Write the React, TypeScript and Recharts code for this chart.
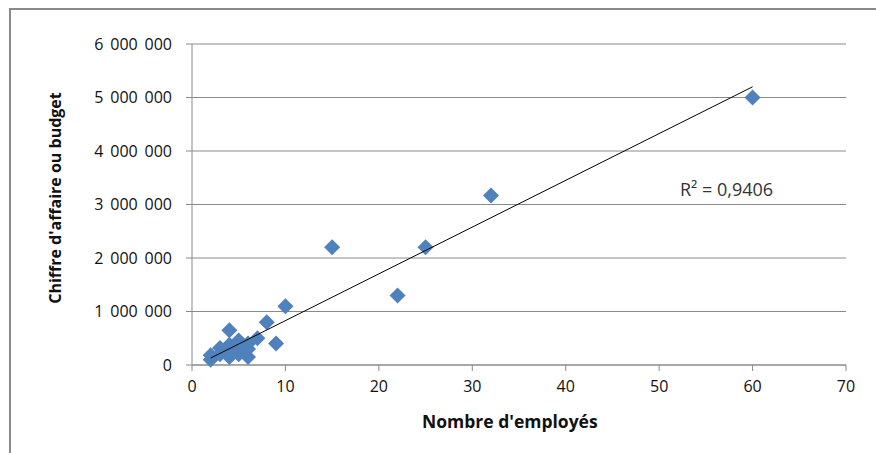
import { ScatterChart, Scatter, XAxis, YAxis, CartesianGrid } from "recharts";

// Nombre d'employés vs chiffre d'affaire
const employees = [2, 2, 3, 3, 4, 4, 4, 4, 5, 5, 5, 6, 6, 6, 7, 8, 9, 10, 15, 22, 25, 32, 60];
const revenue = [
  100000, 180000, 200000, 320000, 150000, 250000, 380000, 650000, 200000, 300000, 460000,
  150000, 300000, 400000, 500000, 800000, 400000, 1100000, 2200000, 1300000, 2200000,
  3170000, 5000000,
];

// trend line ends
const trendX = [2, 60];
const trendY = [130000, 5200000];

const xTicks = [0, 10, 20, 30, 40, 50, 60, 70];
const yTicks = [0, 1000000, 2000000, 3000000, 4000000, 5000000, 6000000];

const points = employees.map((x, i) => ({ x, y: revenue[i] }));
const trend = trendX.map((x, i) => ({ x, y: trendY[i] }));

const fmt = (v: number) => String(v).replace(/\B(?=(\d{3})+(?!\d))/g, "\u2009\u00a0");

const Diamond = (props: any) => {
  const { cx, cy } = props;
  const r = 8;
  return (
    <polygon
      points={`${cx},${cy - r} ${cx + r},${cy} ${cx},${cy + r} ${cx - r},${cy}`}
      fill="#4F81BD"
    />
  );
};

const font = "'Open Sans', sans-serif";

export default function App() {
  return (
    <div style={{ position: "absolute", left: 0, top: 0, width: 876, height: 453, background: "#fff", fontFamily: font }}>
      <div
        style={{
          position: "absolute",
          left: 9,
          top: 8,
          width: 880,
          height: 460,
          borderLeft: "2px solid #8a8a8a",
          borderTop: "2px solid #8a8a8a",
        }}
      />
      <div style={{ position: "absolute", left: 0, top: 0 }}>
        <ScatterChart width={876} height={453} margin={{ top: 44, right: 30, bottom: 0, left: 42 }}>
          <CartesianGrid horizontal vertical={false} stroke="#8a8a8a" strokeDasharray="" />
          <XAxis
            type="number"
            dataKey="x"
            domain={[0, 70]}
            ticks={xTicks}
            height={88}
            tickSize={6}
            tickMargin={10}
            stroke="#8a8a8a"
            tick={{ fill: "#111", fontSize: 16, fontFamily: font }}
          />
          <YAxis
            type="number"
            dataKey="y"
            domain={[0, 6000000]}
            ticks={yTicks}
            width={150}
            tickSize={6}
            tickMargin={14}
            stroke="#8a8a8a"
            tickFormatter={fmt}
            tick={{ fill: "#111", fontSize: 16, fontFamily: font }}
          />
          <Scatter data={points} shape={Diamond} isAnimationActive={false} />
          <Scatter
            data={trend}
            line={{ stroke: "#000", strokeWidth: 1 }}
            shape={() => <g />}
            isAnimationActive={false}
          />
        </ScatterChart>
      </div>
      <div
        style={{
          position: "absolute",
          left: 680,
          top: 177,
          fontSize: 18,
          color: "#333",
          whiteSpace: "nowrap",
        }}
      >
        R² = 0,9406
      </div>
      <div
        style={{
          position: "absolute",
          left: 422,
          top: 409,
          fontSize: 17.5,
          fontWeight: 700,
          color: "#111",
          whiteSpace: "nowrap",
        }}
      >
        Nombre d'employés
      </div>
      <svg width={60} height={340} style={{ position: "absolute", left: 25, top: 28 }}>
        <text
          transform="translate(30, 170) rotate(-90)"
          textAnchor="middle"
          dominantBaseline="central"
          fontSize={16}
          fontWeight={700}
          fill="#111"
          fontFamily={font}
        >
          Chiffre d'affaire ou budget
        </text>
      </svg>
    </div>
  );
}
